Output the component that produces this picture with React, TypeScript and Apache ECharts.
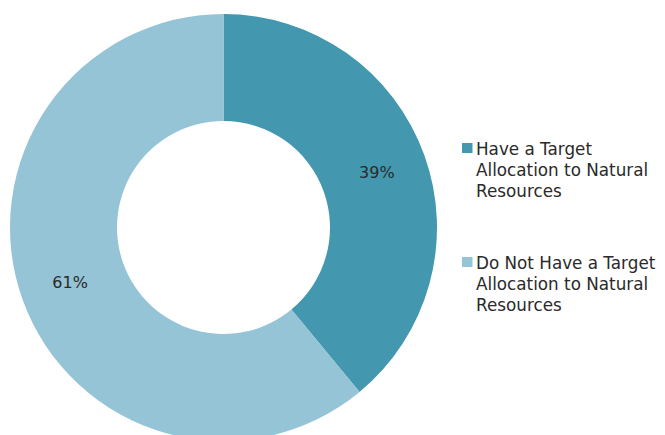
import React, { useEffect, useRef } from "react";
import * as echarts from "echarts";

const categories = [
  "Have a Target Allocation to Natural Resources",
  "Do Not Have a Target Allocation to Natural Resources",
];
const legendLines = [
  "Have a Target\nAllocation to Natural\nResources",
  "Do Not Have a Target\nAllocation to Natural\nResources",
];
const values = [39, 61];
const colors = ["#4398af", "#94c4d6"];

const FONT = "'DejaVu Sans', sans-serif";

export default function App() {
  const ref = useRef<HTMLDivElement>(null);
  useEffect(() => {
    if (!ref.current) return;
    const chart = echarts.init(ref.current, undefined, { renderer: "svg" });
    const legendTops = [134, 248];
    const graphic: any[] = [];
    categories.forEach((c, i) => {
      graphic.push({
        type: "rect",
        shape: { x: 454, y: legendTops[i] + 1, width: 10.5, height: 10 },
        style: { fill: colors[i] },
      });
      graphic.push({
        type: "text",
        x: 468,
        y: legendTops[i] - 4,
        style: {
          text: legendLines[i],
          font: `16.8px ${FONT}`,
          lineHeight: 21,
          fill: "#2a2a2a",
          verticalAlign: "top",
          align: "left",
        },
      });
    });
    chart.setOption({
      animation: false,
      graphic,
      series: [
        {
          type: "pie",
          center: [215.5, 219.5],
          radius: [106.5, 213.5],
          startAngle: 90,
          clockwise: true,
          data: categories.map((c, i) => ({
            name: c,
            value: values[i],
            itemStyle: { color: colors[i] },
          })),
          label: {
            show: true,
            position: "inside",
            formatter: "{c}%",
            color: "#2a2a2a",
            fontFamily: FONT,
            fontSize: 16,
          },
          labelLine: { show: false },
          emphasis: { disabled: true },
          silent: true,
        },
      ],
    });
    return () => chart.dispose();
  }, []);
  return <div ref={ref} style={{ width: 657, height: 427 }} />;
}
